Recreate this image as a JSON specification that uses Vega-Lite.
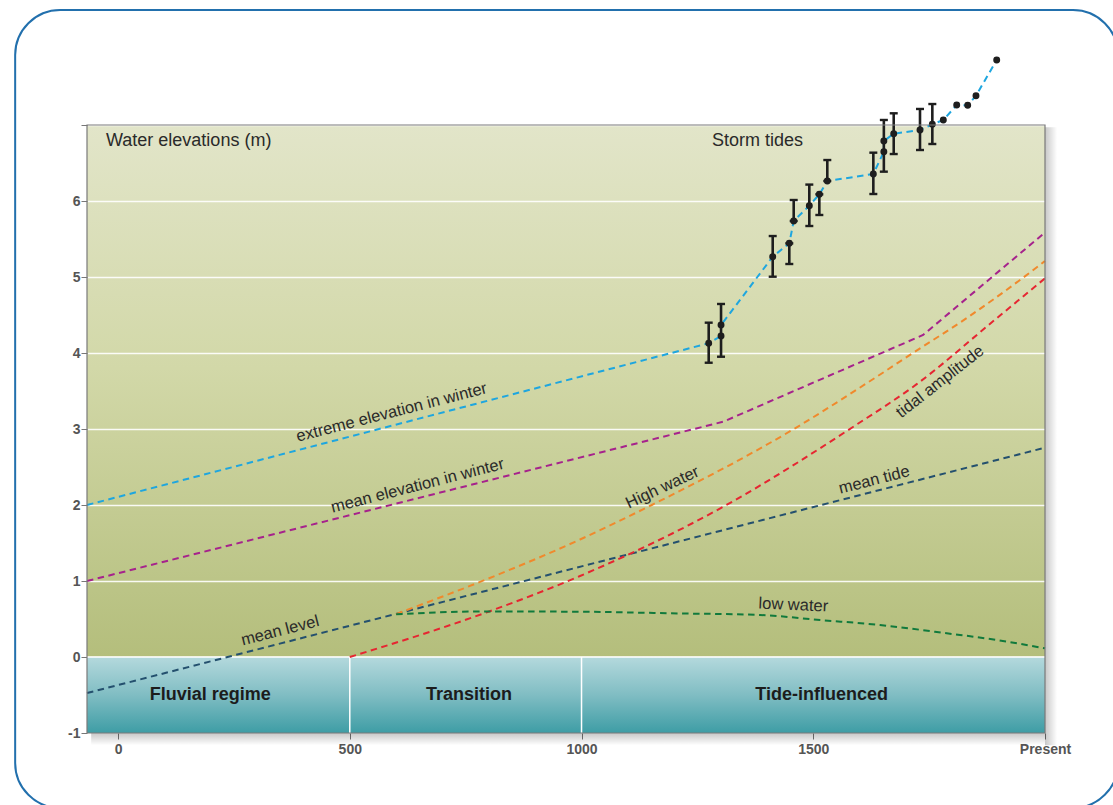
{
  "$schema": "https://vega.github.io/schema/vega-lite/v6.json",
  "width": 958,
  "height": 608,
  "autosize": {"type": "none"},
  "padding": {"left": 87, "top": 125, "right": 68, "bottom": 72},
  "background": "white",
  "config": {
    "font": "Liberation Sans",
    "view": {
      "stroke": null,
      "fill": {
        "gradient": "linear", "x1": 0, "y1": 0, "x2": 0, "y2": 1,
        "stops": [
          {"offset": 0, "color": "#e2e5c9"},
          {"offset": 0.4, "color": "#d2d8a8"},
          {"offset": 0.875, "color": "#b4be7c"},
          {"offset": 1, "color": "#b4be7c"}
        ]
      }
    }
  },
  "datasets": {
    "curves": [
      {"series": "mean_winter", "year": -67, "value": 1.0},
      {"series": "mean_winter", "year": 1305.7, "value": 3.096},
      {"series": "mean_winter", "year": 1737, "value": 4.237},
      {"series": "mean_winter", "year": 2000, "value": 5.586},
      {"series": "mean", "year": -67, "value": -0.474},
      {"series": "mean", "year": 2000, "value": 2.754},
      {"series": "high", "year": 600, "value": 0.565},
      {"series": "high", "year": 787.5, "value": 1.004},
      {"series": "high", "year": 996.8, "value": 1.546},
      {"series": "high", "year": 1151.5, "value": 2.0},
      {"series": "high", "year": 1460.6, "value": 3.009},
      {"series": "high", "year": 1626.1, "value": 3.645},
      {"series": "high", "year": 1715.9, "value": 4.004},
      {"series": "high", "year": 1831.1, "value": 4.46},
      {"series": "high", "year": 1946.1, "value": 4.961},
      {"series": "high", "year": 2000, "value": 5.21},
      {"series": "tidal", "year": 500, "value": 0.0},
      {"series": "tidal", "year": 795.5, "value": 0.588},
      {"series": "tidal", "year": 996.8, "value": 1.066},
      {"series": "tidal", "year": 1306, "value": 1.978},
      {"series": "tidal", "year": 1586.4, "value": 3.03},
      {"series": "tidal", "year": 1723.2, "value": 3.59},
      {"series": "tidal", "year": 1888.5, "value": 4.42},
      {"series": "tidal", "year": 2000, "value": 4.983},
      {"series": "low", "year": 600, "value": 0.562},
      {"series": "low", "year": 781, "value": 0.599},
      {"series": "low", "year": 996.8, "value": 0.596},
      {"series": "low", "year": 1191, "value": 0.575},
      {"series": "low", "year": 1385, "value": 0.553},
      {"series": "low", "year": 1514.6, "value": 0.487},
      {"series": "low", "year": 1644, "value": 0.421},
      {"series": "low", "year": 1788, "value": 0.312},
      {"series": "low", "year": 1896, "value": 0.224},
      {"series": "low", "year": 2000, "value": 0.114}
    ],
    "storm": [
      {"kind": "start", "year": -67, "value": 2.0},
      {"kind": "obs", "year": 1274.4, "value": 4.128, "lo": 3.872, "hi": 4.399},
      {"kind": "obs", "year": 1301.0, "value": 4.224},
      {"kind": "obs", "year": 1301.0, "value": 4.368, "lo": 3.951, "hi": 4.645},
      {"kind": "obs", "year": 1412.5, "value": 5.267, "lo": 5.004, "hi": 5.539},
      {"kind": "obs", "year": 1448.3, "value": 5.443, "lo": 5.171, "hi": 5.443},
      {"kind": "obs", "year": 1457.8, "value": 5.737, "lo": 5.737, "hi": 6.013},
      {"kind": "obs", "year": 1491.5, "value": 5.938, "lo": 5.671, "hi": 6.216},
      {"kind": "obs", "year": 1513.1, "value": 6.088, "lo": 5.816, "hi": 6.088},
      {"kind": "obs", "year": 1530.3, "value": 6.263, "lo": 6.263, "hi": 6.539},
      {"kind": "obs", "year": 1629.6, "value": 6.355, "lo": 6.092, "hi": 6.636},
      {"kind": "obs", "year": 1652.3, "value": 6.649},
      {"kind": "obs", "year": 1652.3, "value": 6.789, "lo": 6.386, "hi": 7.066},
      {"kind": "obs", "year": 1673.6, "value": 6.886, "lo": 6.618, "hi": 7.154},
      {"kind": "obs", "year": 1730.3, "value": 6.934, "lo": 6.671, "hi": 7.211},
      {"kind": "obs", "year": 1756.9, "value": 7.009, "lo": 6.75, "hi": 7.276},
      {"kind": "obs", "year": 1780.6, "value": 7.066},
      {"kind": "obs", "year": 1809.5, "value": 7.263},
      {"kind": "obs", "year": 1833.2, "value": 7.26},
      {"kind": "obs", "year": 1851.1, "value": 7.386},
      {"kind": "obs", "year": 1895.8, "value": 7.855}
    ],
    "regions": [
      {"region": "Fluvial regime", "start": -67, "end": 500, "mid": 199},
      {"region": "Transition", "start": 500, "end": 1000, "mid": 757},
      {"region": "Tide-influenced", "start": 1000, "end": 2000, "mid": 1518}
    ],
    "labels": [
      {"label": "Water elevations (m)", "year": -26, "value": 6.79},
      {"label": "Storm tides", "year": 1281.6, "value": 6.79},
      {"label": "extreme elevation in winter", "year": 590.3, "value": 3.217},
      {"label": "mean elevation in winter", "year": 646.2, "value": 2.253},
      {"label": "mean level", "year": 349.5, "value": 0.345},
      {"label": "High water", "year": 1174.7, "value": 2.23},
      {"label": "tidal amplitude", "year": 1773.5, "value": 3.622},
      {"label": "mean tide", "year": 1631.5, "value": 2.329},
      {"label": "low water", "year": 1457, "value": 0.684}
    ],
    "one": [{}]
  },
  "layer": [
    {
      "data": {"name": "regions"},
      "mark": {
        "type": "rect",
        "color": {
          "gradient": "linear", "x1": 0, "y1": 0, "x2": 0, "y2": 1,
          "stops": [
            {"offset": 0, "color": "#b4d9dd"},
            {"offset": 0.5, "color": "#80bdc3"},
            {"offset": 1, "color": "#3e9da5"}
          ]
        }
      },
      "encoding": {
        "x": {
          "field": "start", "type": "quantitative", "title": null,
          "scale": {"domain": [-67, 2000], "nice": false, "zero": false},
          "axis": {
            "title": null, "values": [0, 500, 1000, 1500, 2000], "format": "d",
            "labelExpr": "datum.value == 2000 ? 'Present' : datum.label",
            "labelFlush": false, "labelOverlap": false,
            "grid": false, "domain": false, "tickColor": "#777", "tickSize": 6,
            "labelPadding": 3, "labelFont": "Liberation Sans", "labelFontWeight": "bold",
            "labelFontSize": 14, "labelColor": "#555"
          }
        },
        "x2": {"field": "end"},
        "y": {
          "datum": -1, "type": "quantitative", "title": null,
          "scale": {"domain": [-1, 7], "nice": false, "zero": false},
          "axis": {
            "title": null, "values": [-1, 0, 1, 2, 3, 4, 5, 6, 7], "format": "d",
            "labelExpr": "datum.value == 7 ? '' : (datum.value == -1 ? '-1' : datum.label)",
            "labelFlush": false, "labelOverlap": false,
            "grid": true, "gridColor": "#ffffff", "gridWidth": 1.3, "gridOpacity": 0.9,
            "domain": false, "tickColor": "#777", "tickSize": 6, "labelPadding": 1,
            "labelFont": "Liberation Sans", "labelFontWeight": "bold",
            "labelFontSize": 14, "labelColor": "#555"
          }
        },
        "y2": {"datum": 0}
      }
    },
    {
      "data": {"name": "one"},
      "mark": {"type": "rect", "cornerRadius": 45, "fillOpacity": 0, "stroke": "#2270ad", "strokeWidth": 2},
      "encoding": {
        "x": {"datum": -222, "type": "quantitative"},
        "x2": {"datum": 2157.5},
        "y": {"datum": 8.513, "type": "quantitative"},
        "y2": {"datum": -1.987}
      }
    },
    {
      "data": {"name": "one"},
      "mark": {
        "type": "rect",
        "color": {
          "gradient": "linear", "x1": 0, "y1": 0, "x2": 1, "y2": 0,
          "stops": [
            {"offset": 0, "color": "rgba(0,0,0,0.22)"},
            {"offset": 1, "color": "rgba(0,0,0,0)"}
          ]
        }
      },
      "encoding": {
        "x": {"datum": 2000, "type": "quantitative"},
        "x2": {"datum": 2026},
        "y": {"datum": 6.97, "type": "quantitative"},
        "y2": {"datum": -1.16}
      }
    },
    {
      "data": {"name": "one"},
      "mark": {
        "type": "rect",
        "color": {
          "gradient": "linear", "x1": 0, "y1": 0, "x2": 0, "y2": 1,
          "stops": [
            {"offset": 0, "color": "rgba(0,0,0,0.22)"},
            {"offset": 1, "color": "rgba(0,0,0,0)"}
          ]
        }
      },
      "encoding": {
        "x": {"datum": -58, "type": "quantitative"},
        "x2": {"datum": 2000},
        "y": {"datum": -1, "type": "quantitative"},
        "y2": {"datum": -1.16}
      }
    },
    {
      "data": {"name": "regions"},
      "transform": [{"filter": "datum.start > 0"}],
      "mark": {"type": "rule", "color": "#ffffff", "strokeWidth": 1.5},
      "encoding": {
        "x": {"field": "start", "type": "quantitative"},
        "y": {"datum": -1, "type": "quantitative"},
        "y2": {"datum": 0}
      }
    },
    {
      "data": {"name": "one"},
      "mark": {"type": "rule", "color": "#ffffff", "strokeWidth": 1.5},
      "encoding": {
        "x": {"datum": -67, "type": "quantitative"},
        "x2": {"datum": 2000},
        "y": {"datum": 0, "type": "quantitative"}
      }
    },
    {
      "data": {"name": "regions"},
      "mark": {"type": "text", "font": "Liberation Sans", "fontWeight": "bold", "fontSize": 18, "color": "#1c1c1c", "align": "center", "baseline": "middle"},
      "encoding": {
        "x": {"field": "mid", "type": "quantitative"},
        "y": {"datum": -0.5, "type": "quantitative"},
        "text": {"field": "region"}
      }
    },
    {
      "data": {"name": "curves"},
      "transform": [{"filter": {"field": "series", "oneOf": ["mean_winter", "mean"]}}],
      "mark": {"type": "line", "strokeDash": [6.5, 4.5], "strokeWidth": 2, "interpolate": "linear"},
      "encoding": {
        "x": {"field": "year", "type": "quantitative"},
        "y": {"field": "value", "type": "quantitative"},
        "color": {
          "field": "series", "type": "nominal", "legend": null,
          "scale": {"domain": ["mean_winter", "mean", "high", "tidal", "low"], "range": ["#a6228c", "#24506e", "#f0892c", "#e62631", "#117a3c"]}
        }
      }
    },
    {
      "data": {"name": "curves"},
      "transform": [{"filter": {"field": "series", "oneOf": ["high", "tidal", "low"]}}],
      "mark": {"type": "line", "strokeDash": [6.5, 4.5], "strokeWidth": 2, "interpolate": "monotone"},
      "encoding": {
        "x": {"field": "year", "type": "quantitative"},
        "y": {"field": "value", "type": "quantitative"},
        "color": {"field": "series", "type": "nominal", "legend": null}
      }
    },
    {
      "data": {"name": "storm"},
      "mark": {"type": "line", "strokeDash": [6.5, 4.5], "strokeWidth": 2, "color": "#1ea6df"},
      "encoding": {
        "x": {"field": "year", "type": "quantitative"},
        "y": {"field": "value", "type": "quantitative"}
      }
    },
    {
      "data": {"name": "storm"},
      "transform": [{"filter": "isValid(datum.lo)"}],
      "mark": {"type": "rule", "color": "#1e1e1e", "strokeWidth": 2.6},
      "encoding": {
        "x": {"field": "year", "type": "quantitative"},
        "y": {"field": "lo", "type": "quantitative"},
        "y2": {"field": "hi"}
      }
    },
    {
      "data": {"name": "storm"},
      "transform": [{"filter": "isValid(datum.lo)"}],
      "mark": {"type": "tick", "orient": "horizontal", "color": "#1e1e1e", "size": 8, "thickness": 2.4, "opacity": 1},
      "encoding": {
        "x": {"field": "year", "type": "quantitative"},
        "y": {"field": "lo", "type": "quantitative"}
      }
    },
    {
      "data": {"name": "storm"},
      "transform": [{"filter": "isValid(datum.hi)"}],
      "mark": {"type": "tick", "orient": "horizontal", "color": "#1e1e1e", "size": 8, "thickness": 2.4, "opacity": 1},
      "encoding": {
        "x": {"field": "year", "type": "quantitative"},
        "y": {"field": "hi", "type": "quantitative"}
      }
    },
    {
      "data": {"name": "storm"},
      "transform": [{"filter": "datum.kind == 'obs'"}],
      "mark": {"type": "circle", "color": "#1e1e1e", "size": 48, "opacity": 1},
      "encoding": {
        "x": {"field": "year", "type": "quantitative"},
        "y": {"field": "value", "type": "quantitative"}
      }
    },
    {
      "data": {"name": "labels"},
      "transform": [{"filter": {"field": "label", "oneOf": ["Water elevations (m)", "Storm tides"]}}],
      "mark": {"type": "text", "font": "Liberation Sans", "fontSize": 18, "color": "#2a2a2a", "align": "left", "baseline": "middle"},
      "encoding": {
        "x": {"field": "year", "type": "quantitative"},
        "y": {"field": "value", "type": "quantitative"},
        "text": {"field": "label"}
      }
    },
    {
      "data": {"name": "labels"},
      "transform": [{"filter": {"field": "label", "oneOf": ["extreme elevation in winter", "mean elevation in winter", "mean level", "mean tide"]}}],
      "mark": {"type": "text", "font": "Liberation Sans", "fontSize": 16.5, "color": "#2a2a2a", "align": "center", "baseline": "middle", "angle": 345.6},
      "encoding": {
        "x": {"field": "year", "type": "quantitative"},
        "y": {"field": "value", "type": "quantitative"},
        "text": {"field": "label"}
      }
    },
    {
      "data": {"name": "labels"},
      "transform": [{"filter": "datum.label == 'High water'"}],
      "mark": {"type": "text", "font": "Liberation Sans", "fontSize": 16.5, "color": "#2a2a2a", "align": "center", "baseline": "middle", "angle": 335},
      "encoding": {
        "x": {"field": "year", "type": "quantitative"},
        "y": {"field": "value", "type": "quantitative"},
        "text": {"field": "label"}
      }
    },
    {
      "data": {"name": "labels"},
      "transform": [{"filter": "datum.label == 'tidal amplitude'"}],
      "mark": {"type": "text", "font": "Liberation Sans", "fontSize": 16.5, "color": "#2a2a2a", "align": "center", "baseline": "middle", "angle": 322},
      "encoding": {
        "x": {"field": "year", "type": "quantitative"},
        "y": {"field": "value", "type": "quantitative"},
        "text": {"field": "label"}
      }
    },
    {
      "data": {"name": "labels"},
      "transform": [{"filter": "datum.label == 'low water'"}],
      "mark": {"type": "text", "font": "Liberation Sans", "fontSize": 16.5, "color": "#2a2a2a", "align": "center", "baseline": "middle", "angle": 2.5},
      "encoding": {
        "x": {"field": "year", "type": "quantitative"},
        "y": {"field": "value", "type": "quantitative"},
        "text": {"field": "label"}
      }
    },
    {
      "data": {"name": "one"},
      "mark": {"type": "rect", "fillOpacity": 0, "stroke": "#7a7a7a", "strokeWidth": 1.2},
      "encoding": {
        "x": {"datum": -67, "type": "quantitative"},
        "x2": {"datum": 2000},
        "y": {"datum": 7, "type": "quantitative"},
        "y2": {"datum": -1}
      }
    }
  ]
}
